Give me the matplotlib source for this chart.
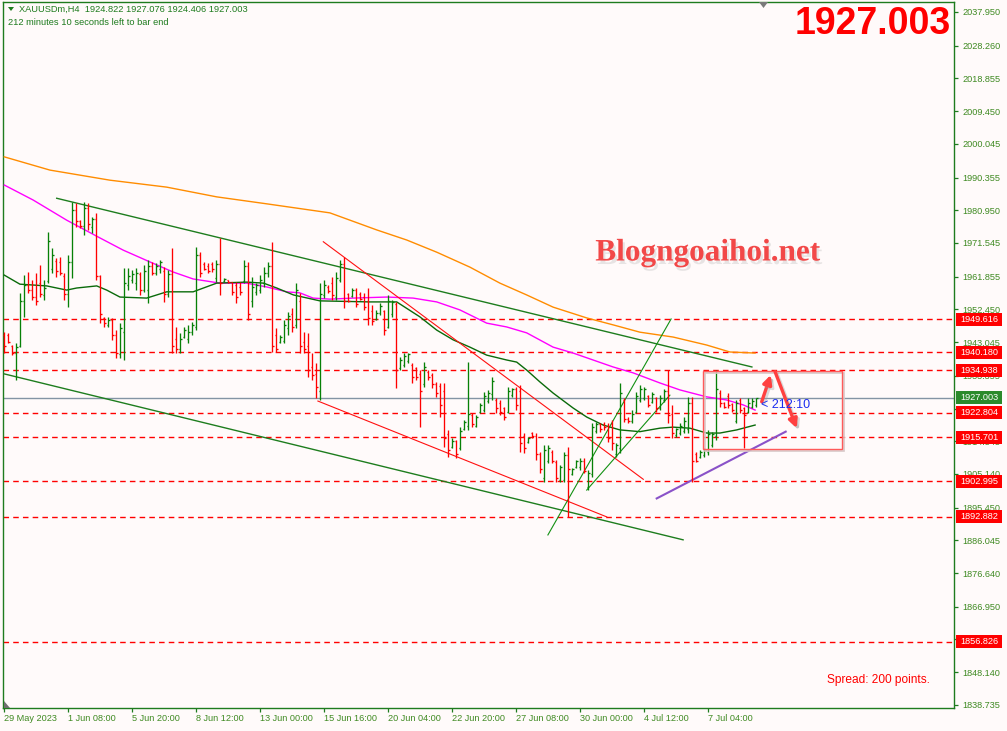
import matplotlib
matplotlib.use('Agg')
import matplotlib.pyplot as plt
import matplotlib.transforms as mtransforms
import matplotlib.patheffects as pe
from matplotlib.patches import Rectangle, Polygon

# ---------------- data ----------------
symbol_header = "XAUUSDm,H4  1924.822 1927.076 1924.406 1927.003"
timer_header = "212 minutes 10 seconds left to bar end"
last_price = 1927.003

opens = [1945.0, 1945.2, 1942.0, 1940.0, 1942.0, 1955.0, 1959.5, 1958.0, 1956.0, 1960.0,
         1956.5, 1960.5, 1964.0, 1966.5, 1966.0, 1962.0, 1957.0, 1966.0, 1981.0, 1978.0,
         1976.5, 1981.5, 1976.0, 1978.5, 1962.0, 1950.0, 1948.0, 1949.5, 1945.0, 1939.5,
         1946.0, 1959.5, 1961.0, 1960.0, 1962.5, 1958.0, 1958.0, 1965.0, 1963.0, 1964.0,
         1963.5, 1957.0, 1962.5, 1944.0, 1941.0, 1944.5, 1944.0, 1946.0, 1947.5, 1968.0,
         1965.5, 1965.0, 1965.5, 1961.5, 1965.5, 1960.5, 1960.8, 1960.2, 1959.5, 1959.0,
         1960.5, 1965.0, 1955.0, 1957.5, 1958.0, 1960.0, 1963.0, 1965.0, 1945.0, 1943.0,
         1943.5, 1947.0, 1951.0, 1948.0, 1955.0, 1943.0, 1942.0, 1936.0, 1934.0, 1929.0,
         1956.5, 1959.0, 1960.0, 1956.0, 1961.0, 1965.5, 1957.0, 1956.3, 1958.0, 1957.0,
         1956.0, 1955.0, 1952.0, 1949.8, 1951.5, 1952.0, 1947.5, 1951.0, 1954.0, 1935.5,
         1936.5, 1937.5, 1936.5, 1935.5, 1934.0, 1931.0, 1934.5, 1933.5, 1931.0, 1930.5,
         1929.0, 1916.5, 1913.0, 1914.5, 1912.5, 1918.0, 1919.0, 1922.0, 1919.0, 1923.0,
         1923.5, 1926.0, 1928.0, 1926.5, 1925.5, 1924.0, 1923.0, 1927.8, 1929.5, 1929.0,
         1916.0, 1914.3, 1917.0, 1916.0, 1911.0, 1904.0, 1909.0, 1911.5, 1908.5, 1903.5,
         1903.5, 1910.5, 1905.0, 1907.2, 1907.0, 1909.0, 1901.5, 1905.0, 1917.5, 1919.5,
         1919.5, 1919.0, 1919.5, 1911.0, 1912.5, 1926.5, 1921.0, 1920.3, 1923.0, 1926.5,
         1927.0, 1927.5, 1925.8, 1927.0, 1924.0, 1926.5, 1929.0, 1922.5, 1916.2, 1916.8,
         1917.5, 1918.0, 1925.5, 1911.0, 1910.0, 1910.5, 1911.5, 1913.5, 1916.0, 1928.5,
         1925.5, 1927.5, 1925.2, 1920.5, 1926.5, 1924.0, 1923.0, 1924.5, 1924.822]
highs = [1946.0, 1945.7, 1942.2, 1942.8, 1957.2, 1962.3, 1963.2, 1960.9, 1962.9, 1965.2,
         1960.9, 1974.7, 1970.1, 1967.2, 1967.5, 1962.9, 1968.1, 1983.3, 1983.0, 1978.1,
         1983.3, 1983.0, 1979.0, 1980.2, 1962.3, 1950.3, 1950.3, 1950.0, 1946.5, 1948.5,
         1964.4, 1964.4, 1963.8, 1964.4, 1963.2, 1965.2, 1966.6, 1966.1, 1965.8, 1966.6,
         1964.6, 1963.8, 1970.1, 1947.4, 1945.7, 1947.4, 1948.0, 1948.8, 1970.4, 1968.9,
         1966.1, 1965.8, 1966.1, 1966.6, 1973.0, 1961.5, 1960.9, 1960.3, 1960.3, 1960.3,
         1966.6, 1966.1, 1961.8, 1960.0, 1962.3, 1964.6, 1966.1, 1971.8, 1947.1, 1945.1,
         1949.4, 1951.7, 1952.9, 1960.0, 1957.2, 1945.9, 1945.7, 1939.9, 1937.0, 1960.0,
         1960.9, 1959.5, 1961.8, 1963.2, 1966.6, 1967.5, 1957.2, 1958.6, 1958.6, 1957.5,
         1957.2, 1958.6, 1953.7, 1952.3, 1954.3, 1952.3, 1956.6, 1955.2, 1954.6, 1938.8,
         1939.9, 1939.9, 1937.0, 1935.9, 1935.0, 1937.3, 1935.0, 1934.2, 1931.6, 1931.3,
         1931.3, 1917.8, 1915.5, 1914.9, 1918.6, 1920.7, 1937.3, 1922.7, 1922.1, 1925.5,
         1928.7, 1929.3, 1933.0, 1927.0, 1926.4, 1924.4, 1930.1, 1929.9, 1930.1, 1930.7,
         1916.9, 1915.8, 1917.2, 1916.9, 1911.4, 1913.5, 1913.5, 1912.0, 1909.2, 1907.7,
         1911.4, 1912.9, 1906.9, 1909.2, 1909.7, 1909.7, 1906.3, 1919.8, 1920.1, 1919.8,
         1920.1, 1919.8, 1920.7, 1914.0, 1931.3, 1927.0, 1921.5, 1923.5, 1928.7, 1930.7,
         1930.1, 1927.8, 1928.7, 1927.3, 1927.8, 1929.6, 1935.0, 1925.0, 1918.3, 1919.8,
         1921.5, 1927.3, 1927.3, 1911.4, 1912.0, 1912.6, 1917.8, 1917.2, 1935.0, 1929.3,
         1925.8, 1928.4, 1925.5, 1926.4, 1927.0, 1924.4, 1927.0, 1927.0, 1927.076]
lows = [1939.9, 1942.8, 1939.3, 1932.2, 1941.6, 1950.3, 1957.2, 1955.2, 1953.7, 1956.0,
        1955.2, 1960.0, 1962.9, 1961.8, 1962.3, 1955.2, 1953.1, 1961.5, 1976.1, 1975.8,
        1973.8, 1975.3, 1974.4, 1960.9, 1948.5, 1947.4, 1947.4, 1943.7, 1938.5, 1938.5,
        1937.9, 1958.0, 1960.0, 1958.0, 1956.6, 1957.5, 1954.3, 1962.3, 1962.3, 1962.9,
        1954.6, 1956.0, 1939.9, 1939.9, 1939.9, 1944.2, 1942.8, 1945.1, 1946.5, 1961.8,
        1963.8, 1962.9, 1963.2, 1960.3, 1956.6, 1960.3, 1960.0, 1956.6, 1954.3, 1956.6,
        1960.0, 1949.4, 1953.1, 1956.6, 1957.2, 1958.9, 1961.8, 1940.2, 1940.2, 1942.8,
        1942.8, 1945.1, 1945.9, 1947.1, 1939.9, 1939.9, 1933.0, 1932.2, 1927.0, 1926.4,
        1955.7, 1957.2, 1955.2, 1955.2, 1960.3, 1952.8, 1954.6, 1956.0, 1953.1, 1955.2,
        1952.3, 1948.0, 1948.0, 1949.4, 1950.8, 1945.1, 1947.1, 1950.3, 1929.9, 1935.0,
        1935.9, 1937.0, 1931.3, 1932.2, 1918.6, 1930.1, 1932.2, 1929.9, 1927.3, 1921.5,
        1912.9, 1910.0, 1912.6, 1909.7, 1912.0, 1917.8, 1917.8, 1918.6, 1918.6, 1922.7,
        1922.9, 1925.5, 1926.4, 1922.7, 1922.1, 1920.7, 1922.7, 1927.3, 1923.5, 1911.5,
        1911.2, 1914.0, 1915.5, 1909.2, 1905.4, 1902.8, 1908.3, 1908.3, 1902.8, 1902.8,
        1902.8, 1892.8, 1904.8, 1906.9, 1906.3, 1905.4, 1900.5, 1904.3, 1916.9, 1917.2,
        1917.8, 1914.3, 1912.0, 1910.0, 1911.2, 1920.1, 1919.8, 1919.8, 1922.7, 1925.8,
        1926.4, 1924.4, 1925.5, 1922.9, 1923.5, 1925.8, 1919.8, 1915.5, 1915.8, 1916.3,
        1916.9, 1916.9, 1902.8, 1908.6, 1909.7, 1910.0, 1910.6, 1912.9, 1914.9, 1924.4,
        1924.1, 1924.1, 1922.9, 1919.8, 1922.7, 1912.6, 1922.7, 1924.1, 1924.406]
closes = [1942.0, 1943.2, 1940.0, 1941.5, 1955.0, 1959.5, 1958.0, 1956.0, 1955.0, 1957.0,
          1958.5, 1972.0, 1968.0, 1963.5, 1963.0, 1957.0, 1966.0, 1981.0, 1978.0, 1976.5,
          1981.5, 1977.0, 1978.5, 1962.0, 1951.0, 1948.5, 1949.5, 1945.0, 1940.0, 1947.0,
          1960.0, 1962.0, 1962.5, 1963.0, 1958.0, 1963.5, 1965.0, 1963.0, 1965.0, 1966.0,
          1957.0, 1962.5, 1942.0, 1941.0, 1944.0, 1946.5, 1946.0, 1948.0, 1968.0, 1963.0,
          1964.0, 1963.5, 1964.0, 1965.5, 1960.0, 1961.2, 1960.2, 1957.5, 1956.0, 1957.5,
          1965.0, 1951.0, 1959.0, 1959.5, 1961.0, 1963.0, 1965.0, 1942.0, 1941.0, 1944.5,
          1948.0, 1950.5, 1947.5, 1958.0, 1942.0, 1941.0, 1935.0, 1933.5, 1930.0, 1957.0,
          1959.5, 1957.8, 1956.5, 1961.5, 1965.5, 1955.0, 1955.0, 1958.0, 1954.0, 1955.5,
          1953.0, 1950.0, 1949.0, 1951.5, 1953.5, 1946.5, 1955.0, 1954.5, 1935.0, 1938.0,
          1939.0, 1939.5, 1933.0, 1933.0, 1929.0, 1936.0, 1933.0, 1931.0, 1928.5, 1925.0,
          1915.5, 1912.0, 1914.5, 1911.0, 1917.5, 1920.0, 1922.5, 1919.5, 1921.5, 1925.0,
          1927.5, 1928.5, 1932.0, 1924.0, 1923.0, 1921.5, 1929.0, 1929.5, 1925.0, 1914.0,
          1912.5, 1915.5, 1916.0, 1911.0, 1906.5, 1912.0, 1912.5, 1909.0, 1904.0, 1907.0,
          1910.5, 1906.5, 1906.5, 1908.8, 1909.0, 1906.0, 1905.5, 1918.5, 1919.5, 1918.0,
          1918.5, 1915.5, 1914.0, 1913.5, 1928.5, 1921.0, 1920.3, 1922.5, 1927.5, 1929.5,
          1929.5, 1925.0, 1928.0, 1924.0, 1927.0, 1929.0, 1922.0, 1917.0, 1918.0, 1919.0,
          1920.5, 1925.5, 1909.0, 1909.0, 1911.5, 1912.0, 1916.5, 1916.5, 1929.5, 1925.5,
          1924.5, 1925.0, 1923.5, 1925.5, 1923.5, 1922.0, 1925.5, 1926.0, 1927.003]
up_bar = [0, 0, 0, 1, 1, 1, 0, 0, 0, 0, 1, 1, 1, 0, 0, 0, 1, 1, 0, 0,
          1, 0, 1, 0, 0, 0, 1, 0, 0, 1, 1, 1, 1, 1, 0, 1, 1, 0, 1, 1,
          0, 1, 0, 0, 1, 1, 1, 1, 1, 0, 0, 0, 0, 1, 0, 1, 0, 0, 0, 0,
          1, 0, 1, 1, 1, 1, 1, 0, 0, 1, 1, 1, 0, 1, 0, 0, 0, 0, 0, 1,
          1, 0, 0, 1, 1, 0, 0, 1, 0, 0, 0, 0, 0, 1, 1, 0, 1, 1, 0, 1,
          1, 1, 0, 0, 0, 1, 0, 0, 0, 0, 0, 0, 1, 0, 1, 1, 1, 0, 1, 1,
          1, 1, 1, 0, 0, 0, 1, 1, 0, 0, 0, 1, 0, 0, 0, 1, 1, 0, 0, 1,
          1, 0, 1, 1, 1, 0, 1, 1, 1, 0, 0, 0, 0, 1, 1, 0, 0, 1, 1, 1,
          1, 0, 1, 0, 1, 1, 0, 0, 1, 1, 1, 1, 0, 0, 1, 1, 1, 1, 1, 0,
          0, 0, 0, 1, 0, 0, 1, 1, 1]

# moving averages (bar index, price)
ma_fast_x = [0, 3.9, 10.6, 15.6, 18.1, 23.1, 25.6, 28.9, 35.6, 40.6, 47.2, 53.1, 60.6, 64.8,
             68.1, 72.3, 78.9, 91.4, 98.1, 103.9, 108.1, 112.2, 116.4, 120.6, 125.6, 128.1,
             130.6, 133.9, 137.2, 142.2, 145.6, 149.7, 153.9, 158.9, 163.9, 167.2, 171.4,
             175.6, 178.9, 183.1, 187.7]
ma_fast_y = [1962.3, 1959.7, 1959.2, 1958.0, 1958.6, 1959.2, 1958.0, 1956.0, 1955.7, 1957.5,
             1957.5, 1960.0, 1960.3, 1960.0, 1958.6, 1956.6, 1954.9, 1954.6, 1954.6, 1950.3,
             1946.5, 1943.7, 1941.6, 1939.3, 1937.9, 1937.3, 1935.0, 1931.6, 1928.4, 1924.1,
             1921.5, 1919.2, 1917.8, 1917.3, 1918.3, 1918.6, 1918.3, 1916.9, 1916.9, 1917.8,
             1919.2]
ma_mid_x = [0, 7.2, 15.6, 23.9, 29.7, 36.4, 42.2, 47.2, 53.9, 60.6, 65.6, 70.6, 73.9, 77.2,
            81.4, 87.2, 95.6, 102.2, 108.1, 113.9, 120.6, 125.6, 130.6, 137.2, 142.2, 147.2,
            152.2, 157.2, 163.9, 168.9, 175.6, 180.6, 184.7, 187.7]
ma_mid_y = [1988.2, 1983.9, 1978.1, 1973.0, 1969.5, 1966.1, 1963.2, 1961.2, 1960.0, 1960.0,
            1958.9, 1957.5, 1957.2, 1955.7, 1955.4, 1955.7, 1956.0, 1955.7, 1954.6, 1952.3,
            1948.5, 1947.4, 1945.7, 1941.6, 1939.9, 1937.9, 1935.9, 1934.2, 1931.3, 1929.3,
            1927.3, 1926.4, 1925.0, 1923.5]
ma_slow_x = [0, 11.4, 26.4, 40.6, 53.1, 65.6, 81.4, 93.1, 100.6, 108.1, 116.4, 123.9, 130.6,
             137.2, 145.6, 152.2, 158.9, 167.2, 175.6, 181.4, 187.7]
ma_slow_y = [1996.3, 1992.5, 1989.6, 1987.6, 1984.8, 1982.8, 1980.2, 1975.3, 1972.4, 1968.9,
             1964.6, 1960.0, 1956.6, 1953.1, 1950.0, 1948.0, 1945.9, 1944.5, 1942.2, 1940.2,
             1939.9]

# trend lines: (x0, y0, x1, y1, colour, width)
trendlines = [
    (13.1, 1984.4, 186.9, 1935.9, '#1e7d1e', 1.0),   # upper falling channel
    (0.0, 1933.9, 169.7, 1886.2, '#1e7d1e', 1.0),    # lower falling channel
    (79.75, 1971.9, 159.75, 1903.6, '#ff1010', 0.8), # red falling wedge top
    (78.4, 1926.1, 150.6, 1892.8, '#ff1010', 0.8),   # red falling wedge bottom
    (135.9, 1887.6, 166.7, 1949.7, '#129012', 0.8),  # rising channel
    (145.6, 1900.5, 166.4, 1927.8, '#129012', 0.8),  # rising channel
    (163.1, 1898.1, 195.35, 1917.3, '#8a52c8', 1.5), # purple support
]

levels = [1949.616, 1940.180, 1934.938, 1922.804, 1915.701, 1902.995, 1892.882, 1856.826]

price_ticks = [2037.950, 2028.260, 2018.855, 2009.450, 2000.045, 1990.355, 1980.950,
               1971.545, 1961.855, 1952.450, 1943.045, 1933.355, 1923.950, 1914.545,
               1905.140, 1895.450, 1886.045, 1876.640, 1866.950, 1857.545, 1848.140,
               1838.735]
hidden_ticks = [1857.545]
date_tick_pos = [0, 16, 32, 48, 64, 80, 96, 112, 128, 144, 160, 176]
date_tick_labels = ['29 May 2023', '1 Jun 08:00', '5 Jun 20:00', '8 Jun 12:00',
                    '13 Jun 00:00', '15 Jun 16:00', '20 Jun 04:00', '22 Jun 20:00',
                    '27 Jun 08:00', '30 Jun 00:00', '4 Jul 12:00', '7 Jul 04:00']

box_x = (174.6, 209.5)
box_y = (1912.3, 1934.7)
arrow_up = ((189.35, 1925.9), (191.6, 1933.6))
arrow_down = ((192.7, 1934.5), (198.1, 1918.3))
timer_label = '< 212:10'
timer_pos = (189.2, 1925.0)

# ---------------- drawing ----------------
W, H = 1007, 731
BG = '#fffafa'
FG = '#3f8a22'
SPINE = '#1e7b1e'
GREEN = '#078007'
RED = '#ff0000'
plt.rcParams['font.family'] = ['Liberation Sans', 'DejaVu Sans']

fig = plt.figure(figsize=(W / 100, H / 100), dpi=100, facecolor=BG)


def fp(px, py):
    return (px / W, 1 - py / H)


ax = fig.add_axes([3 / W, 1 - 708 / H, 951 / W, 706 / H])
ax.set_facecolor(BG)

n = len(closes)
idx = list(range(n))
cols = [GREEN if u else RED for u in up_bar]
ax.vlines(idx, lows, highs, colors=cols, lw=0.95, zorder=4)
ax.hlines(opens, [i - 0.45 for i in idx], idx, colors=cols, lw=0.95, zorder=4)
ax.hlines(closes, idx, [i + 0.45 for i in idx], colors=cols, lw=0.95, zorder=4)

ax.plot(ma_slow_x, ma_slow_y, color='#ff8c00', lw=1.0, zorder=3)
ax.plot(ma_mid_x, ma_mid_y, color='#ff00ff', lw=1.0, zorder=3)
ax.plot(ma_fast_x, ma_fast_y, color='#0a6a0a', lw=1.0, zorder=3)

for x0, y0, x1, y1, c, w in trendlines:
    ax.plot([x0, x1], [y0, y1], color=c, lw=w, zorder=3)

for lv in levels:
    ax.axhline(lv, color=RED, lw=1.0, ls=(0, (4, 3)), zorder=2)
ax.axhline(last_price, color='#8394a4', lw=1.0, zorder=2)

# shadow of the box (thin offset outline), then the box itself
ax.add_patch(Rectangle((box_x[0] + 0.5, box_y[0] - 0.6), box_x[1] - box_x[0], box_y[1] - box_y[0],
                       fill=False, edgecolor='#d8c8c8', lw=1.2, zorder=5))
ax.add_patch(Rectangle((box_x[0], box_y[0]), box_x[1] - box_x[0], box_y[1] - box_y[0],
                       fill=False, edgecolor='#ff5a5a', lw=1.0, zorder=5))

for (s, e) in (arrow_up, arrow_down):
    ax.annotate('', xy=e, xytext=s, zorder=6,
                arrowprops=dict(arrowstyle='-|>', color='#ff4040', lw=2.4,
                                mutation_scale=13, shrinkA=0, shrinkB=0,
                                path_effects=[pe.SimpleLineShadow(offset=(1.5, -1.5), shadow_color='#999999', alpha=0.35),
                                              pe.Normal()]))

ax.text(timer_pos[0], timer_pos[1], timer_label, color='#1a2cf0', fontsize=9,
        va='center', ha='left', zorder=6)

ax.set_xlim((3 - 4.3) / 4, (954 - 4.3) / 4)
ax.set_ylim(2041.4 - 0.2875 * 708, 2041.4 - 0.2875 * 2)

for s in ax.spines.values():
    s.set_color(SPINE)
    s.set_linewidth(1.0)

ax.yaxis.tick_right()
ax.set_yticks(price_ticks)
ax.set_yticklabels(['' if t in hidden_ticks else '%.3f' % t for t in price_ticks])
ax.tick_params(axis='y', colors=SPINE, labelcolor=FG, labelsize=6.6, length=3, width=0.9,
               direction='out', pad=3)
ax.set_xticks(date_tick_pos)
ax.set_xticklabels(date_tick_labels, ha='left')
ax.tick_params(axis='x', colors=SPINE, labelcolor=FG, labelsize=6.6, length=3, width=0.9,
               direction='out', pad=1.5)

# price tags on the right scale
blend = mtransforms.blended_transform_factory(fig.transFigure, ax.transData)
tag_h = 13 * 0.2875
for lv, fc in [(lv, RED) for lv in levels] + [(last_price, '#2b8a2b')]:
    r = Rectangle((956 / W, lv - tag_h / 2), 46 / W, tag_h, transform=blend,
                  facecolor=fc, edgecolor='none', clip_on=False, zorder=10)
    fig.add_artist(r)
    fig.text(979 / W, lv, '%.3f' % lv, transform=blend, color='white', fontsize=6.6,
             ha='center', va='center', zorder=11)

# header
fig.add_artist(Polygon([fp(8, 7), fp(14, 7), fp(11, 11)], closed=True,
                       facecolor='#1e7b1e', edgecolor='none', transform=fig.transFigure))
fig.text(*fp(19, 9), symbol_header, color='#1e7b1e', fontsize=6.7, ha='left', va='center')
fig.text(*fp(8, 22.5), timer_header, color='#1e7b1e', fontsize=6.7, ha='left', va='center')

# chart shift markers
fig.add_artist(Polygon([fp(759, 2), fp(768, 2), fp(763.5, 8)], closed=True,
                       facecolor='#7a7a7a', edgecolor='none', transform=fig.transFigure))
fig.add_artist(Polygon([fp(4, 701), fp(4, 708), fp(10, 708)], closed=True,
                       facecolor='#6f6f6f', edgecolor='none', transform=fig.transFigure))

# big price
fig.text(*fp(951, 24), '%.3f' % last_price, color=RED, fontsize=27, fontweight='bold',
         ha='right', va='center')

# watermark
fig.text(*fp(708, 253), 'Blogngoaihoi.net', color='#f24848', fontsize=22.5,
         family='Liberation Serif', fontweight='bold', ha='center', va='center',
         path_effects=[pe.withSimplePatchShadow(offset=(1.5, -2.5), shadow_rgbFace='#b0b0b0', alpha=0.3)])

# spread
fig.text(*fp(878, 680), 'Spread: 200 points.', color=RED, fontsize=8.6, ha='center', va='center')

fig.savefig('out.png', dpi=100, facecolor=BG)
